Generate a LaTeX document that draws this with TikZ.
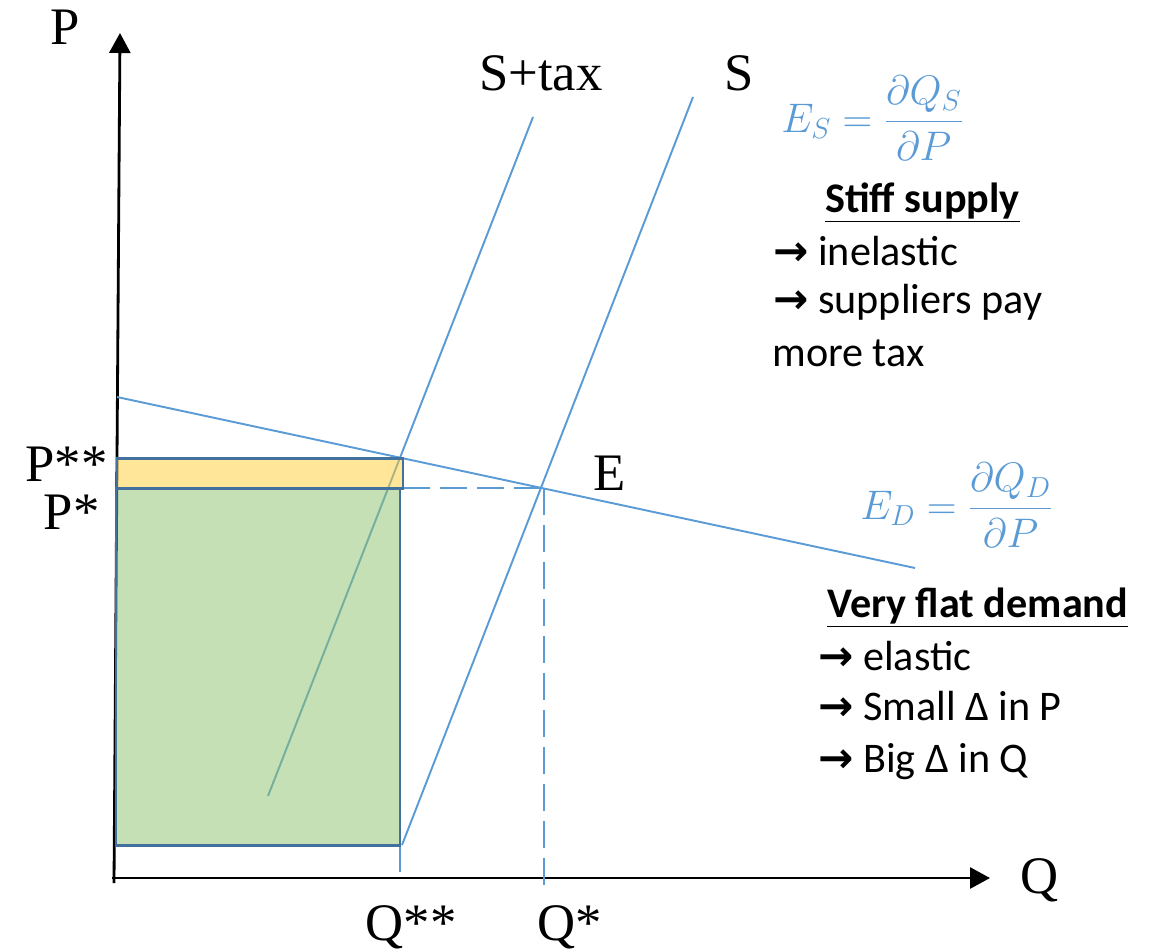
\RequirePackage{fix-cm}
\documentclass[tikz,border=0pt]{standalone}
\usepackage{fontspec}
\setmainfont{Carlito}
\newfontfamily\timesf{Liberation Serif}
\newfontfamily\arrowf{DejaVu Sans}
\usetikzlibrary{arrows.meta}
\definecolor{lineblue}{HTML}{5B9BD5}
\definecolor{edgeblue}{HTML}{41719C}
\definecolor{yelfill}{RGB}{255,205,51}
\definecolor{grnfill}{RGB}{139,193,105}
\newcommand{\rarr}{{\arrowf\bfseries →}}
\begin{document}
\begin{tikzpicture}[x=0.02cm,y=-0.02cm,
  axisline/.style={line width=1.6pt,-{Triangle[length=0.4cm,width=0.42cm]}},
  curveline/.style={lineblue,line width=1.1pt},
  guideline/.style={lineblue,line width=1.1pt,dash pattern=on 0.54cm off 0.2cm},
  areabox/.style={draw=edgeblue,line width=1.7pt,fill opacity=0.5},
  seriflabel/.style={font=\timesf\fontsize{30}{36}\selectfont,inner sep=0pt},
  notetext/.style={font=\fontsize{24}{28}\selectfont,inner sep=0pt,anchor=base west},
  eqtext/.style={text=lineblue,font=\fontsize{23.5}{28}\selectfont,inner sep=0pt,anchor=west}]
\useasboundingbox (0,0) rectangle (1153,951);
% coordinates
\coordinate (Oy) at (114,883);
\coordinate (Ytip) at (120,33);
\coordinate (Ox) at (112,878);
\coordinate (Xtip) at (990,878);
\coordinate (Dstart) at (117,397);
\coordinate (Dend) at (915,568);
\coordinate (Sbot) at (402,845);
\coordinate (Stop) at (693,97);
\coordinate (Tbot) at (268,796);
\coordinate (Ttop) at (533,117);
\coordinate (Ept) at (544,488);
\coordinate (Hstart) at (403,488);
\coordinate (Edown) at (544,885);
\coordinate (QQtop) at (400,845);
\coordinate (QQbot) at (400,880);
% axes
\draw[axisline] (Oy) -- (Ytip);
\draw[axisline] (Ox) -- (Xtip);
% curves
\draw[curveline] (Dstart) -- (Dend);
\draw[curveline] (Sbot) -- (Stop);
\draw[curveline] (Tbot) -- (Ttop);
% guides
\draw[guideline] (Hstart) -- (Ept);
\draw[guideline] (Ept) -- (Edown);
\draw[guideline] (QQtop) -- (QQbot);
% areas
\filldraw[areabox,fill=grnfill] (116,488) rectangle (400,845);
\filldraw[areabox,fill=yelfill] (117,458) rectangle (403,488);
% axis labels
\node[seriflabel,anchor=base] (Plab) at (65,44) {P};
\node[seriflabel,anchor=base] (Qlab) at (1040,893) {Q};
\node[seriflabel,anchor=base east] (Pss) at (108,481) {P**};
\node[seriflabel,anchor=base east] (Ps) at (100,529) {P*};
\node[seriflabel,anchor=base] (Qss) at (411,940) {Q**};
\node[seriflabel,anchor=base] (Qs) at (570,940) {Q*};
\node[seriflabel,anchor=base] (Stax) at (541,90) {S+tax};
\node[seriflabel,anchor=base] (Slab) at (739,90) {S};
\node[seriflabel,anchor=base west] (Elab) at (593,490) {E};
% equations
\node[eqtext] (eqS) at (781,118) {$\displaystyle E_S=\frac{\partial Q_S}{\partial P}$};
\node[eqtext] (eqD) at (860,505) {$\displaystyle E_D=\frac{\partial Q_D}{\partial P}$};
% notes
\node[notetext] (n1) at (825,212) {\underline{\textbf{Stiff supply}}};
\node[notetext] (n2) at (773,265) {\rarr\ inelastic};
\node[notetext] (n3) at (773,313) {\rarr\ suppliers pay};
\node[notetext] (n4) at (772,366) {more tax};
\node[notetext] (m1) at (827,617) {\underline{\textbf{Very flat demand}}};
\node[notetext] (m2) at (818,670) {\rarr\ elastic};
\node[notetext] (m3) at (818,720) {\rarr\ Small Δ in P};
\node[notetext] (m4) at (818,772) {\rarr\ Big Δ in Q};
\end{tikzpicture}
\end{document}
